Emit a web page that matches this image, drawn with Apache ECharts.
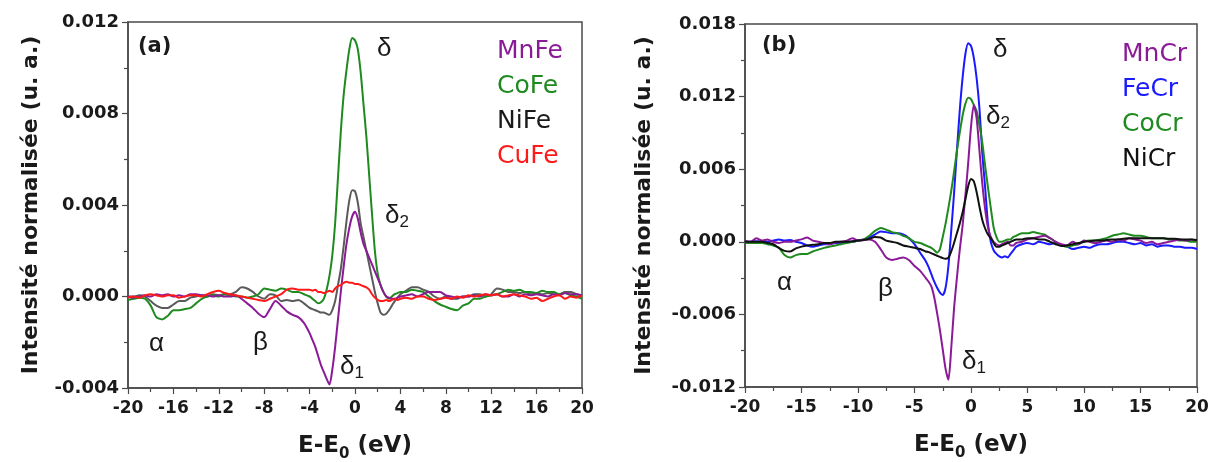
<!DOCTYPE html>
<html><head><meta charset="utf-8">
<script src="https://cdn.jsdelivr.net/npm/echarts@6/dist/echarts.min.js"></script>
<style>html,body{margin:0;padding:0;background:#fff}#c{width:1214px;height:462px}</style>
</head><body><div id="c"></div>
<script>
// Energy grid E-E0 (eV)
const energy = [
 -20,-19.5,-19,-18.5,-18,-17.5,-17,-16.5,-16,-15.5,-15,-14.5,-14,-13.5,-13,-12.5,-12,-11.5,-11,-10.5,-10,-9.5,-9,-8.5,-8,-7.5,-7,-6.5,-6,-5.5,-5,-4.5,
 -4,-3.75,-3.5,-3.25,-3,-2.75,-2.5,-2.25,-2,-1.75,-1.5,-1.25,-1,-0.75,-0.5,-0.25,0,0.25,0.5,0.75,1,1.25,1.5,1.75,2,2.25,2.5,2.75,3,3.25,3.5,3.75,4,
 4.5,5,5.5,6,6.5,7,7.5,8,8.5,9,9.5,10,10.5,11,11.5,12,12.5,13,13.5,14,14.5,15,15.5,16,16.5,17,17.5,18,18.5,19,19.5,20
];
// Intensities in units of 1e-3 (u. a.)
// Panel (a)
const mnFe = [
 0.0,-0.05,0.0,0.05,0.0,0.1,0.05,0.1,0.0,0.05,0.0,0.1,0.1,0.05,0.05,0.0,0.05,0.0,0.0,0.05,-0.1,-0.3,-0.5,-0.75,-0.9,-0.55,-0.2,-0.4,-0.65,-0.8,-0.9,-1.15,
 -1.6,-1.9,-2.2,-2.6,-3.0,-3.3,-3.6,-3.85,-3.2,-2.2,-1.0,0.2,1.3,2.3,3.0,3.5,3.7,3.4,2.8,2.3,2.0,1.7,1.4,1.1,0.8,0.5,0.2,0.0,-0.05,-0.1,-0.1,-0.05,0.0,
 0.05,0.1,0.0,0.1,0.2,0.2,0.2,0.05,0.0,-0.05,0.0,0.0,0.05,0.0,0.1,0.05,0.1,0.0,0.0,0.1,0.0,0.1,0.05,0.1,0.05,0.0,0.1,0.05,0.15,0.1,0.1,0.05
];
const coFe = [
 -0.15,-0.1,-0.05,-0.1,-0.4,-0.9,-1.0,-0.85,-0.6,-0.6,-0.55,-0.5,-0.3,-0.1,0.0,0.05,0.0,0.1,0.05,0.0,0.0,-0.05,0.0,0.1,0.35,0.3,0.25,0.35,0.3,0.2,0.2,0.1,
 0.0,-0.1,-0.2,-0.3,-0.25,-0.1,0.3,0.9,1.8,3.2,5.2,7.2,8.8,9.9,10.8,11.3,11.2,10.8,9.8,8.4,7.0,5.3,3.6,2.0,1.0,0.5,0.2,0.0,-0.1,0.0,0.1,0.15,0.2,
 0.2,0.3,0.25,0.2,0.0,-0.2,-0.35,-0.45,-0.55,-0.6,-0.4,-0.3,-0.1,-0.1,0.0,0.05,0.1,0.2,0.3,0.25,0.3,0.2,0.2,0.15,0.25,0.2,0.2,0.1,0.15,0.05,0.0,-0.1
];
const niFe = [
 0.0,0.0,0.05,0.0,-0.2,-0.4,-0.5,-0.5,-0.35,-0.2,-0.2,-0.05,0.0,0.05,0.0,0.1,0.05,0.1,0.1,0.2,0.4,0.35,0.2,0.0,-0.1,0.1,0.05,-0.2,-0.15,-0.2,-0.15,-0.3,
 -0.5,-0.55,-0.6,-0.65,-0.7,-0.7,-0.75,-0.8,-0.6,-0.2,0.5,1.2,2.2,3.3,4.2,4.65,4.6,4.1,3.2,2.6,2.0,1.4,0.8,0.2,-0.3,-0.7,-0.8,-0.75,-0.6,-0.4,-0.2,-0.05,0.1,
 0.25,0.4,0.4,0.3,0.2,0.0,-0.1,0.0,-0.1,-0.1,0.0,0.0,0.1,0.1,0.0,0.1,0.35,0.3,0.2,0.2,0.15,0.2,0.1,0.15,0.1,0.15,0.1,0.1,0.2,0.2,0.1,0.05
];
const cuFe = [
 -0.05,0.0,-0.05,0.05,0.1,0.05,0.0,0.05,0.05,-0.05,0.0,0.05,0.05,0.0,0.1,0.2,0.25,0.15,0.1,0.05,0.0,-0.05,-0.1,-0.15,-0.2,-0.1,0.0,0.1,0.3,0.35,0.3,0.3,
 0.3,0.25,0.3,0.2,0.2,0.15,0.2,0.25,0.2,0.35,0.45,0.5,0.6,0.65,0.6,0.6,0.55,0.55,0.5,0.45,0.4,0.3,0.1,-0.05,-0.15,-0.2,-0.2,-0.15,-0.2,-0.15,-0.1,-0.15,-0.1,
 -0.05,-0.1,0.0,0.0,-0.1,-0.15,-0.1,-0.05,-0.1,0.0,-0.05,0.05,0.0,0.05,0.1,0.05,0.1,0.0,0.05,0.1,0.05,0.0,-0.1,-0.05,-0.2,-0.1,0.0,0.05,-0.1,0.0,-0.05,0.05
];
// Panel (b)
const mnCr = [
 0.1,0.0,0.3,0.1,0.2,0.0,-0.1,0.0,0.0,0.1,0.2,0.35,0.1,0.0,-0.1,-0.2,-0.05,0.0,0.1,0.3,0.1,0.15,0.2,0.0,-0.6,-1.3,-1.5,-1.4,-1.3,-1.5,-2.0,-2.4,
 -3.0,-3.3,-3.7,-4.6,-5.9,-7.3,-8.9,-10.5,-11.4,-8.8,-5.5,-3.0,-0.7,1.3,3.8,6.5,9.5,11.3,10.2,7.5,4.8,2.7,1.2,0.4,0.0,-0.2,-0.3,-0.2,-0.1,0.0,-0.3,-0.3,-0.1,
 0.0,0.2,0.3,0.4,0.5,0.3,0.0,-0.2,-0.3,0.0,-0.2,0.1,0.0,-0.1,0.0,0.1,0.0,0.2,0.1,0.3,0.2,0.1,-0.1,0.0,-0.2,-0.1,0.0,0.1,0.2,0.1,0.2,0.1
];
const feCr = [
 0.0,0.0,0.05,0.0,0.0,0.1,0.2,0.1,0.15,0.0,-0.1,-0.3,-0.4,-0.3,-0.2,-0.2,-0.1,-0.1,0.0,0.0,0.1,0.2,0.35,0.6,0.85,0.8,0.7,0.7,0.6,0.3,-0.2,-0.9,
 -1.6,-2.1,-2.7,-3.3,-3.8,-4.2,-4.4,-3.8,-2.0,0.9,4.0,7.5,10.8,13.5,15.5,16.4,16.2,15.2,13.5,11.0,7.3,4.5,1.5,0.0,-0.7,-1.0,-1.2,-1.3,-1.2,-1.3,-1.0,-0.7,-0.4,
 -0.2,-0.1,-0.2,0.0,-0.1,-0.2,-0.1,-0.3,-0.4,-0.6,-0.5,-0.4,-0.5,-0.3,-0.2,-0.2,-0.1,0.0,0.0,-0.1,-0.2,-0.1,-0.3,-0.2,-0.4,-0.3,-0.3,-0.4,-0.4,-0.5,-0.5,-0.6
];
const coCr = [
 -0.1,-0.1,-0.1,-0.1,-0.2,-0.3,-0.5,-1.1,-1.3,-1.1,-1.0,-1.0,-0.8,-0.65,-0.5,-0.4,-0.3,-0.2,-0.1,0.0,0.1,0.2,0.5,0.9,1.15,1.0,0.8,0.7,0.5,0.3,0.0,-0.1,
 -0.3,-0.4,-0.5,-0.7,-0.9,-0.6,0.4,1.5,2.8,4.2,5.8,7.5,9.0,10.4,11.4,11.9,11.8,11.3,10.8,9.6,8.2,6.3,4.5,2.8,1.2,0.4,0.0,0.0,0.1,0.2,0.2,0.4,0.5,
 0.7,0.7,0.8,0.7,0.6,0.3,0.0,-0.3,-0.4,-0.3,-0.2,0.0,0.1,0.1,0.2,0.3,0.5,0.6,0.7,0.6,0.5,0.5,0.4,0.3,0.3,0.3,0.2,0.2,0.1,0.1,0.0,0.0
];
const niCr = [
 0.0,0.0,0.0,0.0,-0.1,-0.2,-0.5,-0.75,-0.8,-0.55,-0.4,-0.3,-0.25,-0.2,-0.1,-0.1,0.0,0.0,0.0,0.05,0.1,0.15,0.25,0.4,0.35,0.1,0.0,-0.1,-0.3,-0.4,-0.5,-0.6,
 -0.8,-0.85,-0.95,-1.05,-1.15,-1.25,-1.35,-1.4,-1.3,-0.8,-0.1,0.7,1.5,2.4,3.5,4.6,5.2,5.0,4.1,2.9,1.8,1.1,0.6,0.3,-0.1,-0.4,-0.4,-0.3,-0.2,-0.1,0.0,0.1,0.2,
 0.2,0.3,0.3,0.2,0.2,0.0,-0.2,-0.35,-0.3,-0.2,-0.1,0.0,0.05,0.1,0.1,0.15,0.2,0.2,0.25,0.3,0.3,0.3,0.3,0.3,0.3,0.3,0.25,0.25,0.2,0.2,0.2,0.15
];

const seriesA = [
  {name:'MnFe', values: mnFe, color:'#8b1a97', text:'#8b1a97'},
  {name:'CoFe', values: coFe, color:'#1f8a1f', text:'#1f8a1f'},
  {name:'NiFe', values: niFe, color:'#5a5a5a', text:'#1a1a1a'},
  {name:'CuFe', values: cuFe, color:'#ff1a1a', text:'#ff1a1a'}
];
const seriesB = [
  {name:'MnCr', values: mnCr, color:'#8b1a97', text:'#8b1a97'},
  {name:'FeCr', values: feCr, color:'#1a1aff', text:'#1a1aff'},
  {name:'CoCr', values: coCr, color:'#1f8a1f', text:'#1f8a1f'},
  {name:'NiCr', values: niCr, color:'#111111', text:'#111111'}
];
const drawOrderA = ['NiFe','CoFe','MnFe','CuFe'];
const drawOrderB = ['FeCr','CoCr','MnCr','NiCr'];

const FONT = '"DejaVu Sans", "Liberation Sans", Arial, sans-serif';
const FONT2 = '"Liberation Sans", Arial, sans-serif';
const axisCol = '#4a4a4a';
const txtCol = '#1a1a1a';

function xAx(gi, interval){
  return {
    type:'value', gridIndex: gi, min:-20, max:20, interval: interval,
    axisLine:{show:true, onZero:false, lineStyle:{color:axisCol, width:1.5}},
    axisTick:{show:true, length:6, lineStyle:{color:axisCol, width:1.2}},
    minorTick:{show:true, splitNumber:2, length:4, lineStyle:{color:axisCol, width:1.2}},
    splitLine:{show:false},
    axisLabel:{color:txtCol, fontFamily:FONT, fontWeight:'bold', fontSize:17, margin:12},
    name:'{a|E-E}{s|0}{a| (eV)}', nameLocation:'middle', nameGap:42,
    nameTextStyle:{rich:{
      a:{fontFamily:FONT, fontWeight:'bold', fontSize:23, color:txtCol, lineHeight:32, verticalAlign:'middle'},
      s:{fontFamily:FONT, fontWeight:'bold', fontSize:15, color:txtCol, lineHeight:14, verticalAlign:'bottom'}
    }}
  };
}
function yAx(gi, min, max, interval, gap){
  return {
    type:'value', gridIndex: gi, min:min, max:max, interval: interval,
    axisLine:{show:true, onZero:false, lineStyle:{color:axisCol, width:1.5}},
    axisTick:{show:true, length:6, lineStyle:{color:axisCol, width:1.2}},
    minorTick:{show:true, splitNumber:2, length:4, lineStyle:{color:axisCol, width:1.2}},
    splitLine:{show:false},
    axisLabel:{color:txtCol, fontFamily:FONT, fontWeight:'bold', fontSize:18, margin:9,
      formatter: v => (v/1000).toFixed(3)},
    name:'Intensité normalisée (u. a.)', nameLocation:'middle', nameRotate:90, nameGap:gap,
    nameTextStyle:{fontFamily:FONT, fontWeight:'bold', fontSize:22, color:txtCol}
  };
}

function mkSeries(list, order, gi){
  return order.map(n => {
    const s = list.find(d => d.name === n);
    return {
      name: s.name, type:'line', xAxisIndex: gi, yAxisIndex: gi,
      data: energy.map((e,i) => [e, s.values[i]]),
      showSymbol:false, smooth:0.25, animation:false,
      lineStyle:{color:s.color, width:2}, itemStyle:{color:s.color}
    };
  });
}

function legendFor(list, left, top){
  return {
    orient:'vertical', left:left, top:top, itemWidth:0, itemHeight:0, itemGap:10,
    icon:'rect', selectedMode:false,
    data: list.map(s => ({name:s.name, textStyle:{color:s.text, fontFamily:FONT, fontSize:25}}))
  };
}

function txt(x, y, rich){
  return {type:'text', left:x, top:y, style:{text:rich, rich:{
    g:{fontFamily:FONT2, fontSize:26, fill:txtCol, lineHeight:30, verticalAlign:'middle'},
    b:{fontFamily:FONT, fontSize:21, fontWeight:'bold', fill:txtCol, lineHeight:30, verticalAlign:'middle'},
    s:{fontFamily:FONT2, fontSize:17, fill:txtCol, lineHeight:14, verticalAlign:'bottom'}
  }}};
}

const chart = echarts.init(document.getElementById('c'), null, {renderer:'canvas'});
chart.setOption({
  backgroundColor:'#ffffff',
  animation:false,
  grid:[
    {left:128, right:632, top:22, bottom:74, outerBoundsMode:'none', containLabel:false, show:true, borderColor:axisCol, borderWidth:1.5, backgroundColor:'transparent'},
    {left:745, right:17, top:24, bottom:75, outerBoundsMode:'none', containLabel:false, show:true, borderColor:axisCol, borderWidth:1.5, backgroundColor:'transparent'}
  ],
  xAxis:[xAx(0,4), xAx(1,5)],
  yAxis:[yAx(0,-4,12,4,86), yAx(1,-12,18,6,90)],
  legend:[legendFor(seriesA, 487, 34), legendFor(seriesB, 1112, 37)],
  series:[...mkSeries(seriesA, drawOrderA, 0), ...mkSeries(seriesB, drawOrderB, 1)],
  graphic:[
    txt(138, 36, '{b|(a)}'),
    txt(377, 36, '{g|δ}'),
    txt(385, 203, '{g|δ}{s|2}'),
    txt(340, 354, '{g|δ}{s|1}'),
    txt(149, 331, '{g|α}'),
    txt(253, 330, '{g|β}'),
    txt(762, 35, '{b|(b)}'),
    txt(993, 37, '{g|δ}'),
    txt(986, 104, '{g|δ}{s|2}'),
    txt(962, 349, '{g|δ}{s|1}'),
    txt(777, 270, '{g|α}'),
    txt(878, 276, '{g|β}')
  ]
});
</script></body></html>
